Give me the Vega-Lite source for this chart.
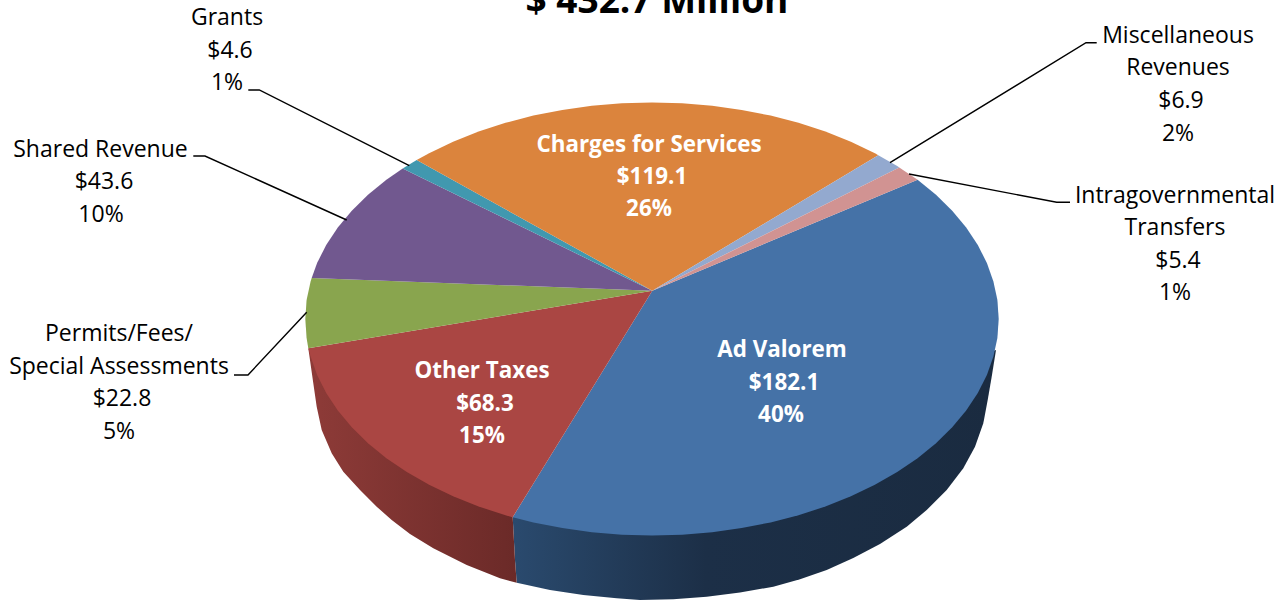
{"$schema":"https://vega.github.io/schema/vega-lite/v6.json","width":1287,"height":600,"padding":0,"autosize":{"type":"none"},"background":"white","view":{"stroke":null},
"datasets":{
"top":[
{"s":"Ad Valorem","o":0,"x":652.3,"y":290.7},{"s":"Ad Valorem","o":1,"x":917.6,"y":179.8},{"s":"Ad Valorem","o":2,"x":936,"y":194.8},{"s":"Ad Valorem","o":3,"x":952.2,"y":210.7},{"s":"Ad Valorem","o":4,"x":966.2,"y":227.5},{"s":"Ad Valorem","o":5,"x":977.8,"y":245},{"s":"Ad Valorem","o":6,"x":986.9,"y":263},{"s":"Ad Valorem","o":7,"x":993.4,"y":281.4},{"s":"Ad Valorem","o":8,"x":997.4,"y":300.1},{"s":"Ad Valorem","o":9,"x":998.7,"y":319},{"s":"Ad Valorem","o":10,"x":997.4,"y":337.9},{"s":"Ad Valorem","o":11,"x":993.4,"y":356.6},{"s":"Ad Valorem","o":12,"x":986.9,"y":375},{"s":"Ad Valorem","o":13,"x":977.8,"y":393},{"s":"Ad Valorem","o":14,"x":966.2,"y":410.5},{"s":"Ad Valorem","o":15,"x":952.2,"y":427.3},{"s":"Ad Valorem","o":16,"x":936,"y":443.2},{"s":"Ad Valorem","o":17,"x":917.6,"y":458.2},{"s":"Ad Valorem","o":18,"x":897.2,"y":472.1},{"s":"Ad Valorem","o":19,"x":874.9,"y":484.8},{"s":"Ad Valorem","o":20,"x":850.9,"y":496.3},{"s":"Ad Valorem","o":21,"x":825.4,"y":506.5},{"s":"Ad Valorem","o":22,"x":798.5,"y":515.2},{"s":"Ad Valorem","o":23,"x":770.6,"y":522.4},{"s":"Ad Valorem","o":24,"x":741.7,"y":528.1},{"s":"Ad Valorem","o":25,"x":712.2,"y":532.2},{"s":"Ad Valorem","o":26,"x":682.2,"y":534.7},{"s":"Ad Valorem","o":27,"x":652,"y":535.5},{"s":"Ad Valorem","o":28,"x":621.8,"y":534.7},{"s":"Ad Valorem","o":29,"x":591.8,"y":532.2},{"s":"Ad Valorem","o":30,"x":562.3,"y":528.1},{"s":"Ad Valorem","o":31,"x":533.4,"y":522.4},{"s":"Ad Valorem","o":32,"x":512.7,"y":517.2},
{"s":"Other Taxes","o":0,"x":652.3,"y":290.7},{"s":"Other Taxes","o":1,"x":512.7,"y":517.2},{"s":"Other Taxes","o":2,"x":505.5,"y":515.2},{"s":"Other Taxes","o":3,"x":478.6,"y":506.5},{"s":"Other Taxes","o":4,"x":453.1,"y":496.3},{"s":"Other Taxes","o":5,"x":429.1,"y":484.8},{"s":"Other Taxes","o":6,"x":406.8,"y":472.1},{"s":"Other Taxes","o":7,"x":386.4,"y":458.2},{"s":"Other Taxes","o":8,"x":368,"y":443.2},{"s":"Other Taxes","o":9,"x":351.8,"y":427.3},{"s":"Other Taxes","o":10,"x":337.8,"y":410.5},{"s":"Other Taxes","o":11,"x":326.2,"y":393},{"s":"Other Taxes","o":12,"x":317.1,"y":375},{"s":"Other Taxes","o":13,"x":310.6,"y":356.6},{"s":"Other Taxes","o":14,"x":308.3,"y":348.3},
{"s":"Permits","o":0,"x":652.3,"y":290.7},{"s":"Permits","o":1,"x":308.3,"y":348.3},{"s":"Permits","o":2,"x":306.6,"y":337.9},{"s":"Permits","o":3,"x":305.3,"y":319},{"s":"Permits","o":4,"x":306.6,"y":300.1},{"s":"Permits","o":5,"x":310.6,"y":281.4},{"s":"Permits","o":6,"x":311.7,"y":278},
{"s":"Shared","o":0,"x":652.3,"y":290.7},{"s":"Shared","o":1,"x":311.7,"y":278},{"s":"Shared","o":2,"x":317.1,"y":263},{"s":"Shared","o":3,"x":326.2,"y":245},{"s":"Shared","o":4,"x":337.8,"y":227.5},{"s":"Shared","o":5,"x":351.8,"y":210.7},{"s":"Shared","o":6,"x":368,"y":194.8},{"s":"Shared","o":7,"x":386.4,"y":179.8},{"s":"Shared","o":8,"x":402.7,"y":168.5},
{"s":"Grants","o":0,"x":652.3,"y":290.7},{"s":"Grants","o":1,"x":402.7,"y":168.5},{"s":"Grants","o":2,"x":406.8,"y":165.9},{"s":"Grants","o":3,"x":416.7,"y":160},
{"s":"Charges","o":0,"x":652.3,"y":290.7},{"s":"Charges","o":1,"x":416.7,"y":160},{"s":"Charges","o":2,"x":429.1,"y":153.2},{"s":"Charges","o":3,"x":453.1,"y":141.7},{"s":"Charges","o":4,"x":478.6,"y":131.5},{"s":"Charges","o":5,"x":505.5,"y":122.8},{"s":"Charges","o":6,"x":533.4,"y":115.6},{"s":"Charges","o":7,"x":562.3,"y":109.9},{"s":"Charges","o":8,"x":591.8,"y":105.8},{"s":"Charges","o":9,"x":621.8,"y":103.3},{"s":"Charges","o":10,"x":652,"y":102.5},{"s":"Charges","o":11,"x":682.2,"y":103.3},{"s":"Charges","o":12,"x":712.2,"y":105.8},{"s":"Charges","o":13,"x":741.7,"y":109.9},{"s":"Charges","o":14,"x":770.6,"y":115.6},{"s":"Charges","o":15,"x":798.5,"y":122.8},{"s":"Charges","o":16,"x":825.4,"y":131.5},{"s":"Charges","o":17,"x":850.9,"y":141.7},{"s":"Charges","o":18,"x":874.9,"y":153.2},{"s":"Charges","o":19,"x":878.3,"y":155.2},
{"s":"Misc","o":0,"x":652.3,"y":290.7},{"s":"Misc","o":1,"x":878.3,"y":155.2},{"s":"Misc","o":2,"x":897.2,"y":165.9},{"s":"Misc","o":3,"x":899.3,"y":167.5},
{"s":"Intra","o":0,"x":652.3,"y":290.7},{"s":"Intra","o":1,"x":899.3,"y":167.5},{"s":"Intra","o":2,"x":917.6,"y":179.8}
],
"sideBlue":[
{"o":0,"x":996,"y":350},{"o":1,"x":991.7,"y":376.7},{"o":2,"x":987.7,"y":400},{"o":3,"x":983.3,"y":423.3},{"o":4,"x":975,"y":446.7},{"o":5,"x":963.3,"y":468.3},{"o":6,"x":946.7,"y":490},{"o":7,"x":926.7,"y":510},{"o":8,"x":906.7,"y":526.7},{"o":9,"x":880,"y":544},{"o":10,"x":853.3,"y":558},{"o":11,"x":826.7,"y":570},{"o":12,"x":800,"y":579.3},{"o":13,"x":773.3,"y":586.7},{"o":14,"x":740,"y":592.5},{"o":15,"x":706.7,"y":596.7},{"o":16,"x":673.3,"y":599.3},{"o":17,"x":640,"y":600},{"o":18,"x":616.7,"y":598.3},{"o":19,"x":583.3,"y":595},{"o":20,"x":550,"y":590},{"o":21,"x":516.7,"y":582.7},{"o":22,"x":515,"y":560},{"o":23,"x":512.7,"y":517.2}
],
"sideRed":[
{"o":0,"x":308.3,"y":348.3},{"o":1,"x":313.3,"y":383.3},{"o":2,"x":316.7,"y":406.7},{"o":3,"x":321.7,"y":430},{"o":4,"x":331.7,"y":453.3},{"o":5,"x":343.3,"y":471.7},{"o":6,"x":360,"y":490},{"o":7,"x":376.7,"y":506.7},{"o":8,"x":391.7,"y":520},{"o":9,"x":410,"y":534},{"o":10,"x":433.3,"y":548.3},{"o":11,"x":466.7,"y":565},{"o":12,"x":500,"y":578.3},{"o":13,"x":516.7,"y":582.7},{"o":14,"x":515,"y":560},{"o":15,"x":512.7,"y":517.2}
],
"leaders":[
{"s":"Grants","o":0,"x":248.3,"y":90},{"s":"Grants","o":1,"x":259.3,"y":90},{"s":"Grants","o":2,"x":409.3,"y":165.7},
{"s":"Shared","o":0,"x":193.3,"y":156},{"s":"Shared","o":1,"x":205,"y":156},{"s":"Shared","o":2,"x":346.7,"y":220},
{"s":"Permits","o":0,"x":234,"y":375},{"s":"Permits","o":1,"x":248,"y":375},{"s":"Permits","o":2,"x":306.7,"y":312.3},
{"s":"Misc","o":0,"x":1096.7,"y":42.7},{"s":"Misc","o":1,"x":1086,"y":42.7},{"s":"Misc","o":2,"x":890,"y":162.7},
{"s":"Intra","o":0,"x":1070,"y":202.3},{"s":"Intra","o":1,"x":1056.7,"y":202.3},{"s":"Intra","o":2,"x":909,"y":174}
],
"labels":[
{"t":"Grants","x":227,"y":18},{"t":"$4.6","x":230,"y":51},{"t":"1%","x":227,"y":83},
{"t":"Shared Revenue","x":100.5,"y":150},{"t":"$43.6","x":104,"y":182},{"t":"10%","x":101,"y":215},
{"t":"Permits/Fees/","x":119,"y":334},{"t":"Special Assessments","x":119,"y":367},{"t":"$22.8","x":122,"y":399},{"t":"5%","x":119,"y":432},
{"t":"Miscellaneous","x":1178,"y":36},{"t":"Revenues","x":1178,"y":68},{"t":"$6.9","x":1181,"y":101},{"t":"2%","x":1178,"y":134},
{"t":"Intragovernmental","x":1175,"y":196},{"t":"Transfers","x":1175,"y":228},{"t":"$5.4","x":1178,"y":261},{"t":"1%","x":1175,"y":293}
],
"inner":[
{"t":"Charges for Services","x":649,"y":145},{"t":"$119.1","x":652,"y":177},{"t":"26%","x":649,"y":209},
{"t":"Ad Valorem","x":782,"y":350},{"t":"$182.1","x":784,"y":383},{"t":"40%","x":781,"y":415},
{"t":"Other Taxes","x":482,"y":371},{"t":"$68.3","x":485,"y":404},{"t":"15%","x":482,"y":436}
],
"title":[{"t":"$ 432.7 Million","x":657,"y":2}]
},
"encoding":{
"x":{"field":"x","type":"quantitative","scale":{"domain":[0,1287],"nice":false,"zero":false},"axis":null},
"y":{"field":"y","type":"quantitative","scale":{"domain":[600,0],"nice":false,"zero":false},"axis":null}
},
"layer":[
{"data":{"name":"sideBlue"},"mark":{"type":"line","filled":true,"interpolate":"linear-closed","strokeWidth":0,"color":{"gradient":"linear","x1":0,"x2":1,"y1":0,"y2":0,"stops":[{"offset":0,"color":"#2a4a6e"},{"offset":0.4,"color":"#1c2f47"},{"offset":1,"color":"#1a2b40"}]}},"encoding":{"order":{"field":"o","type":"quantitative"}}},
{"data":{"name":"sideRed"},"mark":{"type":"line","filled":true,"interpolate":"linear-closed","strokeWidth":0,"color":{"gradient":"linear","x1":0,"x2":1,"y1":0,"y2":0,"stops":[{"offset":0,"color":"#8e3b38"},{"offset":1,"color":"#6b2a28"}]}},"encoding":{"order":{"field":"o","type":"quantitative"}}},
{"data":{"name":"top"},"mark":{"type":"line","filled":true,"interpolate":"linear-closed"},"encoding":{"order":{"field":"o","type":"quantitative"},"color":{"field":"s","type":"nominal","legend":null,"scale":{"domain":["Ad Valorem","Other Taxes","Permits","Shared","Grants","Charges","Misc","Intra"],"range":["#4572a7","#aa4643","#89a54e","#71588f","#4198af","#db843d","#93a9cf","#d19392"]}}}},
{"data":{"name":"leaders"},"mark":{"type":"line","stroke":"#000000","strokeWidth":1.4},"encoding":{"detail":{"field":"s"},"order":{"field":"o","type":"quantitative"}}},
{"data":{"name":"labels"},"mark":{"type":"text","font":"Open Sans","fontSize":23,"fill":"#000000","align":"center","baseline":"middle"},"encoding":{"text":{"field":"t"}}},
{"data":{"name":"inner"},"mark":{"type":"text","font":"Open Sans","fontSize":22.4,"fontWeight":"bold","fill":"#ffffff","align":"center","baseline":"middle"},"encoding":{"text":{"field":"t"}}},
{"data":{"name":"title"},"mark":{"type":"text","font":"Open Sans","fontSize":37,"fontWeight":"bold","fill":"#000000","align":"center","baseline":"middle"},"encoding":{"text":{"field":"t"}}}
]}
